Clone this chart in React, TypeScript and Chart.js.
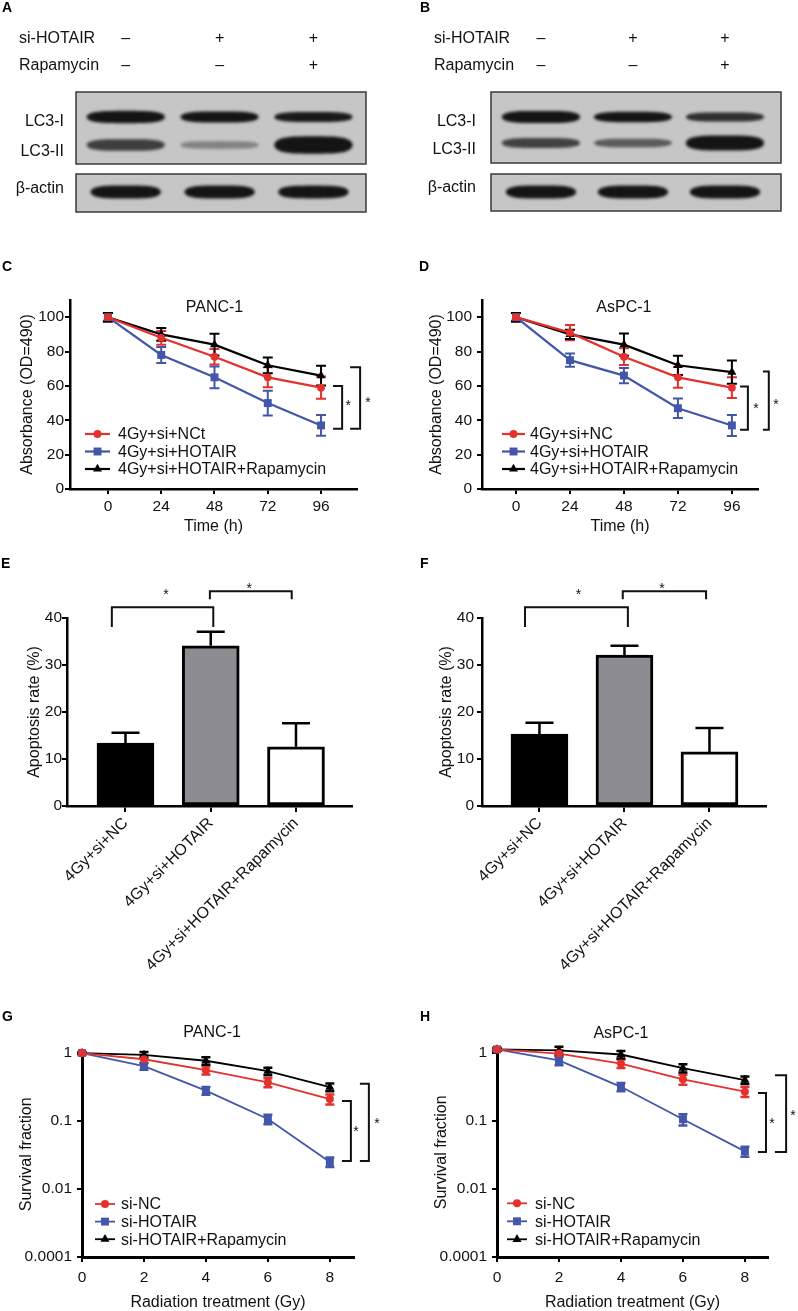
import React, { useEffect, useRef } from 'react';
import { Chart, registerables } from 'chart.js';

Chart.register(...registerables);

const FONT = "'Liberation Sans', Arial, Helvetica, sans-serif";
const RED = '#e3312d';
const BLUE = '#4356a9';
const INK = '#111111';

// ================= DATA =================
// A / B : western blots (relative band density per lane)
const blotLanes = [0, 1, 2];
const siHotairSigns = ['–', '+', '+'];
const rapamycinSigns = ['–', '–', '+'];
const blotRowNames = ['LC3-I', 'LC3-II', 'β-actin'];
const densityA_LC3I = [0.97, 0.8, 0.67];
const densityA_LC3II = [0.46, 0.08, 1.0];
const densityA_actin = [1.0, 1.0, 0.97];
const densityB_LC3I = [0.96, 0.72, 0.55];
const densityB_LC3II = [0.45, 0.3, 1.0];
const densityB_actin = [1.0, 1.0, 1.0];

// C / D : absorbance over time
const timeHours = [0, 24, 48, 72, 96];
const absorbanceTicks = [0, 20, 40, 60, 80, 100];
const seriesNamesC = ['4Gy+si+NCt', '4Gy+si+HOTAIR', '4Gy+si+HOTAIR+Rapamycin'];
const seriesNamesD = ['4Gy+si+NC', '4Gy+si+HOTAIR', '4Gy+si+HOTAIR+Rapamycin'];
const panc1NC = [100, 88, 77, 65, 59];
const panc1NCErr = [2.5, 4, 4.5, 5.8, 6.5];
const panc1HOTAIR = [100, 78, 65, 50, 37];
const panc1HOTAIRErr = [2.5, 4.6, 6.3, 7.2, 6];
const panc1Rapa = [100, 90, 84, 72, 66];
const panc1RapaErr = [2.5, 3.7, 6.3, 4.6, 5.8];
const aspc1NC = [100, 91, 77, 65, 59];
const aspc1NCErr = [2.5, 4.4, 4.9, 6, 6];
const aspc1HOTAIR = [100, 75, 66, 47, 37];
const aspc1HOTAIRErr = [2.5, 3.8, 4.4, 5.7, 6.1];
const aspc1Rapa = [100, 90, 84, 72, 68];
const aspc1RapaErr = [2.5, 2.7, 6.5, 5.6, 6.8];

// E / F : apoptosis rate
const apoptosisGroups = ['4Gy+si+NC', '4Gy+si+HOTAIR', '4Gy+si+HOTAIR+Rapamycin'];
const apoptosisTicks = [0, 10, 20, 30, 40];
const apoptosisPANC1 = [13.4, 34.1, 12.6];
const apoptosisPANC1Err = [2.2, 3.0, 5.0];
const apoptosisAsPC1 = [15.3, 32.1, 11.5];
const apoptosisAsPC1Err = [2.4, 2.0, 5.1];

// G / H : survival fraction
const doseGy = [0, 2, 4, 6, 8];
const survivalNames = ['si-NC', 'si-HOTAIR', 'si-HOTAIR+Rapamycin'];
const survivalTickValues = [0.001, 0.01, 0.1, 1];
const survivalTickLabels = ['0.0001', '0.01', '0.1', '1'];
const survPanc1NC = [1, 0.81, 0.56, 0.37, 0.21];
const survPanc1NCErr = [0.03, 0.09, 0.075, 0.055, 0.035];
const survPanc1HOTAIR = [1, 0.64, 0.28, 0.107, 0.025];
const survPanc1HOTAIRErr = [0.03, 0.07, 0.037, 0.017, 0.004];
const survPanc1Rapa = [1, 0.94, 0.77, 0.54, 0.315];
const survPanc1RapaErr = [0.03, 0.1, 0.1, 0.07, 0.04];
const survAspc1NC = [1.13, 0.98, 0.7, 0.41, 0.27];
const survAspc1NCErr = [0.05, 0.11, 0.1, 0.07, 0.045];
const survAspc1HOTAIR = [1.13, 0.78, 0.318, 0.106, 0.0357];
const survAspc1HOTAIRErr = [0.05, 0.12, 0.045, 0.02, 0.006];
const survAspc1Rapa = [1.13, 1.09, 0.95, 0.6, 0.4];
const survAspc1RapaErr = [0.05, 0.14, 0.12, 0.085, 0.05];

// ================= HELPERS =================
function drawMarker(ctx: any, style: string, x: number, y: number, r: number, color: string) {
  ctx.fillStyle = color;
  ctx.beginPath();
  if (style === 'rect') {
    const h = r * Math.SQRT1_2;
    ctx.rect(x - h, y - h, 2 * h, 2 * h);
  } else if (style === 'triangle') {
    ctx.moveTo(x, y - r);
    ctx.lineTo(x + r * 0.866, y + r * 0.5);
    ctx.lineTo(x - r * 0.866, y + r * 0.5);
    ctx.closePath();
  } else {
    ctx.arc(x, y, r, 0, Math.PI * 2);
  }
  ctx.fill();
}

function panelPlugin(cfg: any) {
  return {
    id: 'panelDecor',
    beforeDatasetsDraw(chart: any) {
      const ctx = chart.ctx;
      chart.data.datasets.forEach((ds: any, di: number) => {
        if (!ds.errors) return;
        const meta = chart.getDatasetMeta(di);
        const ys = chart.scales[meta.yAxisID];
        ctx.save();
        ctx.strokeStyle = ds.errorColor || ds.borderColor;
        ctx.lineWidth = ds.errorWidth || 2;
        meta.data.forEach((el: any, i: number) => {
          const v = ds.data[i].y;
          const e = ds.errors[i];
          const x = el.x;
          const hw = (ds.capWidth || 10) / 2;
          const yt = ys.getPixelForValue(v + e);
          const yb = ys.getPixelForValue(ds.errorUpOnly ? v : v - e);
          ctx.beginPath();
          ctx.moveTo(x, yb);
          ctx.lineTo(x, yt);
          ctx.moveTo(x - hw, yt);
          ctx.lineTo(x + hw, yt);
          if (!ds.errorUpOnly) {
            ctx.moveTo(x - hw, yb);
            ctx.lineTo(x + hw, yb);
          }
          ctx.stroke();
        });
        ctx.restore();
      });
    },
    afterDraw(chart: any) {
      const { ctx, chartArea: a, scales } = chart;
      const xs = scales.x;
      const ys = scales.y;
      ctx.save();
      // significance brackets
      (cfg.brackets || []).forEach((b: any) => {
        ctx.strokeStyle = INK;
        ctx.lineWidth = cfg.bracketWidth || 2;
        const X0 = xs.getPixelForValue(b.x0);
        const X1 = xs.getPixelForValue(b.x1);
        ctx.beginPath();
        if (b.kind === 'v') {
          const Y0 = ys.getPixelForValue(b.y0);
          const Y1 = ys.getPixelForValue(b.y1);
          ctx.moveTo(X0, Y0);
          ctx.lineTo(X1, Y0);
          ctx.lineTo(X1, Y1);
          ctx.lineTo(X0, Y1);
        } else {
          const Y = ys.getPixelForValue(b.y0);
          ctx.moveTo(X0, ys.getPixelForValue(b.yL));
          ctx.lineTo(X0, Y);
          ctx.lineTo(X1, Y);
          ctx.lineTo(X1, ys.getPixelForValue(b.yR));
        }
        ctx.stroke();
        ctx.fillStyle = INK;
        ctx.font = `14px ${FONT}`;
        ctx.textAlign = 'center';
        ctx.textBaseline = 'middle';
        ctx.fillText('*', xs.getPixelForValue(b.sx), ys.getPixelForValue(b.sy) + 3);
      });
      // legend
      if (cfg.legend) {
        const lg = cfg.legend;
        chart.data.datasets.forEach((ds: any, i: number) => {
          const y = a.top + lg.dy + i * lg.rowH;
          const x0 = a.left + lg.dx;
          ctx.strokeStyle = ds.borderColor;
          ctx.lineWidth = ds.borderWidth;
          ctx.beginPath();
          ctx.moveTo(x0, y);
          ctx.lineTo(x0 + lg.lineLen, y);
          ctx.stroke();
          drawMarker(ctx, ds.pointStyle, x0 + lg.lineLen / 2, y, ds.pointRadius, ds.backgroundColor);
          ctx.fillStyle = INK;
          ctx.font = `16px ${FONT}`;
          ctx.textAlign = 'left';
          ctx.textBaseline = 'middle';
          ctx.fillText(ds.label, x0 + lg.lineLen + lg.gap, y + 1);
        });
      }
      // panel title
      if (cfg.title) {
        ctx.fillStyle = INK;
        ctx.font = `16px ${FONT}`;
        ctx.textAlign = 'center';
        ctx.textBaseline = 'middle';
        ctx.fillText(cfg.title.text, xs.getPixelForValue(cfg.title.x), ys.getPixelForValue(cfg.title.y));
      }
      // panel letter
      if (cfg.letter) {
        ctx.fillStyle = '#000';
        ctx.font = `bold 14px ${FONT}`;
        ctx.textAlign = 'left';
        ctx.textBaseline = 'middle';
        ctx.fillText(cfg.letter.text, cfg.letter.x, cfg.letter.y);
      }
      ctx.restore();
    },
  };
}

function axisLook(tickLen: number, borderW: number) {
  return {
    border: { display: true, color: '#000', width: borderW },
    grid: { display: true, offset: false, drawOnChartArea: false, drawTicks: true, tickLength: tickLen, color: '#000', lineWidth: 2 },
  };
}

function baseOptions(g: any) {
  return {
    responsive: false,
    animation: false,
    devicePixelRatio: 1,
    layout: { padding: { top: g.padTop, right: g.padRight, left: 0, bottom: 0 } },
    plugins: { legend: { display: false }, tooltip: { enabled: false }, title: { display: false } },
  };
}

function lineChartConfig(p: any) {
  const g = p.geo;
  const datasets = p.series.map((s: any) => ({
    type: 'line',
    label: s.label,
    data: p.xs.map((x: number, i: number) => ({ x, y: s.values[i] })),
    errors: s.errors,
    errorWidth: p.errWidth,
    capWidth: p.capWidth,
    borderColor: s.color,
    backgroundColor: s.color,
    borderWidth: p.lineWidth,
    pointStyle: s.marker,
    pointRadius: s.radius,
    pointHoverRadius: s.radius,
    pointBorderWidth: 0,
    tension: 0,
    clip: false,
  }));
  const tickFont = { family: FONT, size: 15.5, lineHeight: 1.2 };
  const titleFont = { family: FONT, size: 16, lineHeight: 1 };
  return {
    type: 'line',
    data: { datasets },
    options: {
      ...baseOptions(g),
      scales: {
        x: {
          type: 'linear',
          min: p.xMin,
          max: p.xMax,
          ...axisLook(5, p.axisWidth),
          afterFit: (s: any) => { s.height = g.xHeight; },
          afterBuildTicks: (s: any) => { s.ticks = p.xs.map((v: number) => ({ value: v })); },
          ticks: { color: INK, font: tickFont, padding: p.xTickPad, maxRotation: 0, minRotation: 0, autoSkip: false, callback: (_v: any, i: number) => String(p.xs[i]) },
          title: { display: true, text: p.xTitle, color: INK, font: titleFont, padding: { top: 0, bottom: p.xTitlePad } },
        },
        y: {
          type: p.yType,
          min: p.yMin,
          max: p.yMax,
          ...axisLook(5, p.axisWidth),
          afterFit: (s: any) => { s.width = g.yWidth; },
          afterBuildTicks: (s: any) => { s.ticks = p.yTicks.map((v: number) => ({ value: v })); },
          ticks: { color: INK, font: tickFont, padding: p.yTickPad, autoSkip: false, callback: (_v: any, i: number) => p.yTickLabels[i] },
          title: { display: true, text: p.yTitle, color: INK, font: titleFont, padding: { top: p.yTitlePad, bottom: 0 } },
        },
      },
    },
    plugins: [panelPlugin(p.decor)],
  };
}

function barChartConfig(p: any) {
  const g = p.geo;
  const tickFont = { family: FONT, size: 15.5, lineHeight: 1.2 };
  const titleFont = { family: FONT, size: 16, lineHeight: 1 };
  return {
    type: 'bar',
    data: {
      datasets: [{
        label: 'Apoptosis rate',
        data: apoptosisGroups.map((_n, i) => ({ x: i, y: p.values[i] })),
        backgroundColor: ['#000000', '#8d8d91', '#ffffff'],
        borderColor: '#000',
        borderWidth: 3,
        borderSkipped: false,
        barThickness: 57,
        errors: p.errors,
        errorUpOnly: true,
        errorColor: '#000',
        errorWidth: 2.5,
        capWidth: 28,
      }],
    },
    options: {
      ...baseOptions(g),
      scales: {
        x: {
          type: 'linear',
          min: p.xMin,
          max: p.xMax,
          offset: false,
          ...axisLook(6, 2.5),
          afterFit: (s: any) => { s.height = g.xHeight; },
          afterBuildTicks: (s: any) => { s.ticks = apoptosisGroups.map((_n, i) => ({ value: i })); },
          ticks: { color: INK, font: { family: FONT, size: 16, lineHeight: 1.2 }, padding: 2, minRotation: 45, maxRotation: 45, autoSkip: false, callback: (_v: any, i: number) => apoptosisGroups[i] },
        },
        y: {
          type: 'linear',
          min: 0,
          max: 40,
          ...axisLook(5, 2.5),
          afterFit: (s: any) => { s.width = g.yWidth; },
          afterBuildTicks: (s: any) => { s.ticks = apoptosisTicks.map((v) => ({ value: v })); },
          ticks: { color: INK, font: tickFont, padding: p.yTickPad, autoSkip: false, callback: (_v: any, i: number) => String(apoptosisTicks[i]) },
          title: { display: true, text: 'Apoptosis rate (%)', color: INK, font: titleFont, padding: { top: p.yTitlePad, bottom: 0 } },
        },
      },
    },
    plugins: [panelPlugin(p.decor)],
  };
}

function blotPlugin(p: any) {
  return {
    id: 'blot',
    beforeDatasetsDraw(chart: any) {
      const { ctx, chartArea: a, scales } = chart;
      const x = scales.x;
      const y = scales.y;
      ctx.save();
      p.boxes.forEach((bx: number[]) => {
        const t = y.getPixelForValue(bx[0]);
        const b = y.getPixelForValue(bx[1]);
        ctx.fillStyle = '#c6c6c6';
        ctx.fillRect(a.left, t, a.right - a.left, b - t);
      });
      chart.data.datasets.forEach((ds: any, di: number) => {
        const meta = chart.getDatasetMeta(di);
        meta.data.forEach((el: any, i: number) => {
          const d = ds.density[i];
          const h = ds.bandHeight * (0.4 + 0.6 * d);
          const w = ds.bandWidth;
          ctx.save();
          ctx.filter = 'blur(1.6px)';
          ctx.globalAlpha = Math.min(1, 0.3 + d);
          ctx.fillStyle = '#141414';
          ctx.beginPath();
          const N = 40;
          for (let k = 0; k <= N; k++) {
            const t = -1 + (2 * k) / N;
            const yy = (h / 2) * Math.sqrt(Math.max(0, 1 - Math.pow(Math.abs(t), 4)));
            if (k === 0) ctx.moveTo(el.x + (t * w) / 2, el.y - yy);
            else ctx.lineTo(el.x + (t * w) / 2, el.y - yy);
          }
          for (let k = N; k >= 0; k--) {
            const t = -1 + (2 * k) / N;
            const yy = (h / 2) * Math.sqrt(Math.max(0, 1 - Math.pow(Math.abs(t), 4)));
            ctx.lineTo(el.x + (t * w) / 2, el.y + yy);
          }
          ctx.closePath();
          ctx.fill();
          ctx.restore();
        });
      });
      p.boxes.forEach((bx: number[]) => {
        const t = y.getPixelForValue(bx[0]);
        const b = y.getPixelForValue(bx[1]);
        ctx.strokeStyle = '#3a3a3a';
        ctx.lineWidth = 1.5;
        ctx.strokeRect(a.left, t, a.right - a.left, b - t);
      });
      ctx.fillStyle = INK;
      ctx.font = `16px ${FONT}`;
      ctx.textBaseline = 'middle';
      ctx.textAlign = 'right';
      chart.data.datasets.forEach((ds: any) => {
        ctx.fillText(ds.label, a.left - p.labelGap, y.getPixelForValue(ds.labelY));
      });
      p.treatments.forEach((t: any) => {
        const py = y.getPixelForValue(t.y);
        ctx.textAlign = 'left';
        ctx.fillText(t.name, a.left - p.treatGap, py);
        ctx.textAlign = 'center';
        t.signs.forEach((s: string, i: number) => ctx.fillText(s, x.getPixelForValue(blotLanes[i]), py));
      });
      ctx.fillStyle = '#000';
      ctx.font = `bold 14px ${FONT}`;
      ctx.textAlign = 'left';
      ctx.fillText(p.letter.text, p.letter.x, p.letter.y);
      ctx.restore();
    },
  };
}

function blotConfig(p: any) {
  const rows = [
    { label: blotRowNames[0], y: 2.5, labelY: 3.0, density: p.d1, bandHeight: 12.5, bandWidth: 79 },
    { label: blotRowNames[1], y: p.row2Y, labelY: p.row2LabelY, density: p.d2, bandHeight: p.row2H, bandWidth: 79 },
    { label: blotRowNames[2], y: 10.0, labelY: p.row3LabelY, density: p.d3, bandHeight: 13, bandWidth: 71 },
  ];
  return {
    type: 'scatter',
    data: {
      datasets: rows.map((r) => ({
        label: r.label,
        data: blotLanes.map((l) => ({ x: l, y: r.y })),
        density: r.density,
        bandHeight: r.bandHeight,
        bandWidth: r.bandWidth,
        labelY: r.labelY,
        pointRadius: 0,
        showLine: false,
      })),
    },
    options: {
      responsive: false,
      animation: false,
      devicePixelRatio: 1,
      layout: { padding: p.pad },
      plugins: { legend: { display: false }, tooltip: { enabled: false } },
      scales: {
        x: { type: 'linear', display: false, min: p.xMin, max: p.xMax },
        y: { type: 'linear', display: false, min: 0, max: 12, reverse: true },
      },
    },
    plugins: [blotPlugin(p)],
  };
}

function ChartPanel({ geo, build }: { geo: any; build: () => any }) {
  const ref = useRef<HTMLCanvasElement>(null);
  useEffect(() => {
    const chart = new Chart(ref.current as HTMLCanvasElement, build());
    return () => chart.destroy();
  }, []);
  return (
    <canvas
      ref={ref}
      width={geo.width}
      height={geo.height}
      style={{ position: 'absolute', left: geo.left, top: geo.top, width: geo.width, height: geo.height }}
    />
  );
}

// ================= PANELS =================
const geoA = { left: 0, top: 0, width: 400, height: 240 };
const geoB = { left: 400, top: 0, width: 398, height: 240 };
const geoC = { left: 0, top: 255, width: 400, height: 285, padTop: 45, padRight: 43, yWidth: 70, xHeight: 51 };
const geoD = { left: 400, top: 255, width: 398, height: 285, padTop: 45, padRight: 40, yWidth: 82, xHeight: 51 };
const geoE = { left: 0, top: 555, width: 400, height: 425, padTop: 63, padRight: 48, yWidth: 67, xHeight: 174 };
const geoF = { left: 400, top: 555, width: 398, height: 425, padTop: 63, padRight: 32, yWidth: 82, xHeight: 174 };
const geoG = { left: 0, top: 1005, width: 400, height: 306, padTop: 46.6, padRight: 46, yWidth: 82, xHeight: 54 };
const geoH = { left: 400, top: 1005, width: 398, height: 306, padTop: 42.6, padRight: 30, yWidth: 97, xHeight: 54 };

const buildA = () => blotConfig({
  pad: { left: 76, top: 92, right: 34, bottom: 28 },
  xMin: -0.53, xMax: 2.56,
  d1: densityA_LC3I, d2: densityA_LC3II, d3: densityA_actin,
  row2Y: 5.3, row2LabelY: 6.0, row2H: 17.3, row3LabelY: 9.7,
  boxes: [[0, 7.2], [8.2, 12]],
  labelGap: 12, treatGap: 57,
  treatments: [{ name: 'si-HOTAIR', y: -5.3, signs: siHotairSigns }, { name: 'Rapamycin', y: -2.6, signs: rapamycinSigns }],
  letter: { text: 'A', x: 2, y: 8.5 },
});

const buildB = () => blotConfig({
  pad: { left: 91, top: 92, right: 17, bottom: 28 },
  xMin: -0.543, xMax: 2.609,
  d1: densityB_LC3I, d2: densityB_LC3II, d3: densityB_actin,
  row2Y: 5.1, row2LabelY: 5.8, row2H: 15, row3LabelY: 9.6,
  boxes: [[0, 7.1], [8.2, 11.9]],
  labelGap: 15, treatGap: 57,
  treatments: [{ name: 'si-HOTAIR', y: -5.3, signs: siHotairSigns }, { name: 'Rapamycin', y: -2.6, signs: rapamycinSigns }],
  letter: { text: 'B', x: 20, y: 8.5 },
});

function absorbanceSeries(names: string[], nc: number[], ncE: number[], ho: number[], hoE: number[], ra: number[], raE: number[]) {
  return [
    { label: names[0], values: nc, errors: ncE, color: RED, marker: 'circle', radius: 3.9 },
    { label: names[1], values: ho, errors: hoE, color: BLUE, marker: 'rect', radius: 5.6 },
    { label: names[2], values: ra, errors: raE, color: '#000', marker: 'triangle', radius: 5.2 },
  ];
}

const buildC = () => lineChartConfig({
  geo: geoC, xs: timeHours, xMin: -17.1, xMax: 112.2,
  yType: 'linear', yMin: 0, yMax: 110, yTicks: absorbanceTicks, yTickLabels: absorbanceTicks.map(String),
  xTitle: 'Time (h)', yTitle: 'Absorbance (OD=490)', xTitlePad: 5, yTitlePad: 20, xTickPad: 3, yTickPad: 1,
  axisWidth: 2.5, lineWidth: 2.2, errWidth: 2, capWidth: 10,
  series: absorbanceSeries(seriesNamesC, panc1NC, panc1NCErr, panc1HOTAIR, panc1HOTAIRErr, panc1Rapa, panc1RapaErr),
  decor: {
    letter: { text: 'C', x: 2, y: 11.7 },
    title: { text: 'PANC-1', x: 48, y: 105.8 },
    legend: { dx: 15, dy: 134, rowH: 17.5, lineLen: 25, gap: 8 },
    brackets: [
      { kind: 'v', x0: 101.4, x1: 105.5, y0: 60, y1: 35, sx: 108.2, sy: 49.7 },
      { kind: 'v', x0: 109.1, x1: 113.6, y0: 70.8, y1: 35, sx: 117.2, sy: 52 },
    ],
  },
});

const buildD = () => lineChartConfig({
  geo: geoD, xs: timeHours, xMin: -15.1, xMax: 107.6,
  yType: 'linear', yMin: 0, yMax: 110, yTicks: absorbanceTicks, yTickLabels: absorbanceTicks.map(String),
  xTitle: 'Time (h)', yTitle: 'Absorbance (OD=490)', xTitlePad: 5, yTitlePad: 29, xTickPad: 3, yTickPad: 5,
  axisWidth: 2.5, lineWidth: 2.2, errWidth: 2, capWidth: 10,
  series: absorbanceSeries(seriesNamesD, aspc1NC, aspc1NCErr, aspc1HOTAIR, aspc1HOTAIRErr, aspc1Rapa, aspc1RapaErr),
  decor: {
    letter: { text: 'D', x: 19, y: 11.7 },
    title: { text: 'AsPC-1', x: 48, y: 105.8 },
    legend: { dx: 20, dy: 134, rowH: 17.5, lineLen: 23, gap: 5 },
    brackets: [
      { kind: 'v', x0: 99.6, x1: 103.1, y0: 59.6, y1: 34.5, sx: 106.7, sy: 48.5 },
      { kind: 'v', x0: 109.8, x1: 112.4, y0: 68.4, y1: 34.5, sx: 115.6, sy: 50.3 },
    ],
  },
});

const buildE = () => barChartConfig({
  geo: geoE, xMin: -0.686, xMax: 2.657, values: apoptosisPANC1, errors: apoptosisPANC1Err,
  yTickPad: 0, yTitlePad: 27,
  decor: {
    letter: { text: 'E', x: 1, y: 9.3 },
    brackets: [
      { kind: 'h', x0: -0.16, x1: 1.03, y0: 42.3, yL: 38.1, yR: 38.1, sx: 0.475, sy: 45.5 },
      { kind: 'h', x0: 0.99, x1: 1.95, y0: 45.7, yL: 44, yR: 44, sx: 1.45, sy: 46.8 },
    ],
  },
});

const buildF = () => barChartConfig({
  geo: geoF, xMin: -0.676, xMax: 2.665, values: apoptosisAsPC1, errors: apoptosisAsPC1Err,
  yTickPad: 3, yTitlePad: 39,
  decor: {
    letter: { text: 'F', x: 20, y: 9.3 },
    brackets: [
      { kind: 'h', x0: -0.17, x1: 1.04, y0: 42.3, yL: 38.1, yR: 38.1, sx: 0.46, sy: 45.5 },
      { kind: 'h', x0: 0.98, x1: 1.96, y0: 45.7, yL: 44, yR: 44, sx: 1.44, sy: 46.8 },
    ],
  },
});

function survivalSeries(nc: number[], ncE: number[], ho: number[], hoE: number[], ra: number[], raE: number[]) {
  return [
    { label: survivalNames[0], values: nc, errors: ncE, color: RED, marker: 'circle', radius: 4 },
    { label: survivalNames[1], values: ho, errors: hoE, color: BLUE, marker: 'rect', radius: 5.6 },
    { label: survivalNames[2], values: ra, errors: raE, color: '#000', marker: 'triangle', radius: 5.2 },
  ];
}

const buildG = () => lineChartConfig({
  geo: geoG, xs: doseGy, xMin: 0, xMax: 8.78,
  yType: 'logarithmic', yMin: 0.001, yMax: 1.05, yTicks: survivalTickValues, yTickLabels: survivalTickLabels,
  xTitle: 'Radiation treatment (Gy)', yTitle: 'Survival fraction', xTitlePad: 0, yTitlePad: 19, xTickPad: 6, yTickPad: 5,
  axisWidth: 3, lineWidth: 1.8, errWidth: 2.5, capWidth: 9,
  series: survivalSeries(survPanc1NC, survPanc1NCErr, survPanc1HOTAIR, survPanc1HOTAIRErr, survPanc1Rapa, survPanc1RapaErr),
  decor: {
    letter: { text: 'G', x: 2, y: 11.7 },
    title: { text: 'PANC-1', x: 4.2, y: 1.97 },
    legend: { dx: 13, dy: 152.4, rowH: 17.6, lineLen: 20, gap: 6 },
    brackets: [
      { kind: 'v', x0: 8.39, x1: 8.68, y0: 0.197, y1: 0.0258, sx: 8.84, sy: 0.076 },
      { kind: 'v', x0: 8.97, x1: 9.26, y0: 0.354, y1: 0.0258, sx: 9.52, sy: 0.1 },
    ],
  },
});

const buildH = () => lineChartConfig({
  geo: geoH, xs: doseGy, xMin: 0, xMax: 8.745,
  yType: 'logarithmic', yMin: 0.001, yMax: 1.2, yTicks: survivalTickValues, yTickLabels: survivalTickLabels,
  xTitle: 'Radiation treatment (Gy)', yTitle: 'Survival fraction', xTitlePad: 0, yTitlePad: 34, xTickPad: 6, yTickPad: 5,
  axisWidth: 3, lineWidth: 1.8, errWidth: 2.5, capWidth: 9,
  series: survivalSeries(survAspc1NC, survAspc1NCErr, survAspc1HOTAIR, survAspc1HOTAIRErr, survAspc1Rapa, survAspc1RapaErr),
  decor: {
    letter: { text: 'H', x: 20, y: 11.7 },
    title: { text: 'AsPC-1', x: 4.0, y: 1.92 },
    legend: { dx: 10, dy: 155.7, rowH: 18, lineLen: 20, gap: 8 },
    brackets: [
      { kind: 'v', x0: 8.42, x1: 8.68, y0: 0.257, y1: 0.035, sx: 8.87, sy: 0.1 },
      { kind: 'v', x0: 8.97, x1: 9.33, y0: 0.47, y1: 0.035, sx: 9.55, sy: 0.131 },
    ],
  },
});

export default function App() {
  return (
    <div style={{ position: 'absolute', left: 0, top: 0, width: 798, height: 1311, background: '#ffffff', overflow: 'hidden' }}>
      <ChartPanel geo={geoA} build={buildA} />
      <ChartPanel geo={geoB} build={buildB} />
      <ChartPanel geo={geoC} build={buildC} />
      <ChartPanel geo={geoD} build={buildD} />
      <ChartPanel geo={geoE} build={buildE} />
      <ChartPanel geo={geoF} build={buildF} />
      <ChartPanel geo={geoG} build={buildG} />
      <ChartPanel geo={geoH} build={buildH} />
    </div>
  );
}
